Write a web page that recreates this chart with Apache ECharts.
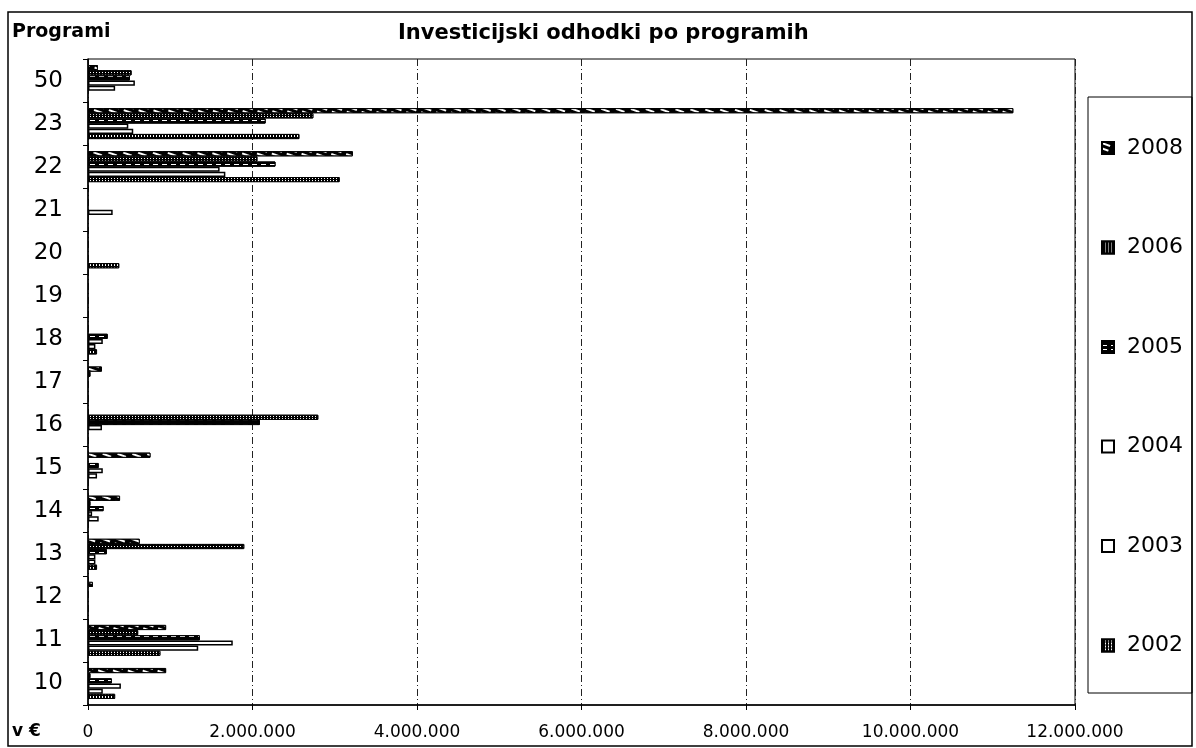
<!DOCTYPE html>
<html>
<head>
<meta charset="utf-8">
<title>Investicijski odhodki po programih</title>
<script src="https://cdn.jsdelivr.net/npm/echarts@6/dist/echarts.min.js"></script>
<style>
  html, body { margin: 0; padding: 0; background: #fff; }
  #chart { width: 1196px; height: 748px; }
</style>
</head>
<body>
<div id="chart"></div>
<script>
// programi, from bottom to top as on the axis
const programs = ['10', '11', '12', '13', '14', '15', '16', '17', '18', '19', '20', '21', '22', '23', '50'];

// investment per program and year, in EUR
const y2008 = [950000, 950000, 60000, 630000, 390000, 760000, 0, 170000, 0, 0, 0, 0, 3220000, 11250000, 120000];
const y2006 = [30000, 610000, 0, 1900000, 30000, 0, 2800000, 30000, 0, 0, 0, 0, 2060000, 2740000, 530000];
const y2005 = [290000, 1360000, 0, 230000, 190000, 130000, 2090000, 0, 240000, 0, 0, 0, 2280000, 2160000, 510000];
const y2004 = [400000, 1760000, 0, 90000, 50000, 180000, 170000, 0, 180000, 0, 0, 300000, 1600000, 490000, 570000];
const y2003 = [180000, 1340000, 0, 90000, 130000, 110000, 0, 0, 90000, 0, 0, 0, 1670000, 550000, 330000];
const y2002 = [330000, 880000, 0, 110000, 0, 0, 0, 0, 110000, 0, 380000, 0, 3060000, 2570000, 0];

const years = ['2008', '2006', '2005', '2004', '2003', '2002'];
const xMax = 12000000;
const xStep = 2000000;

const fontFamily = '"DejaVu Sans", Arial, sans-serif';
const dots = (v) => String(v).replace(/\B(?=(\d{3})+(?!\d))/g, '.');

// black & white fills like the printed original
const styles = {
  '2008': { color: '#000', borderColor: '#000', borderWidth: 1,
    decal: { color: '#fff', symbol: 'rect', symbolSize: 1, dashArrayX: [[9, 5]], dashArrayY: [2, 3], rotation: 0.35 } },
  '2006': { color: '#000', borderColor: '#000', borderWidth: 1,
    decal: { color: '#fff', symbol: 'rect', symbolSize: 1, dashArrayX: [[1, 2]], dashArrayY: [1, 1] } },
  '2005': { color: '#000', borderColor: '#000', borderWidth: 1,
    decal: { color: '#fff', symbol: 'rect', symbolSize: 1, dashArrayX: [[5, 4]], dashArrayY: [1, 3] } },
  '2004': { color: '#fff', borderColor: '#000', borderWidth: 1.5 },
  '2003': { color: '#fff', borderColor: '#000', borderWidth: 1.5 },
  '2002': { color: '#000', borderColor: '#000', borderWidth: 1,
    decal: { color: '#fff', symbol: 'rect', symbolSize: 1, dashArrayX: [[1, 2]], dashArrayY: [2, 1] } }
};

const valuesByYear = { '2008': y2008, '2006': y2006, '2005': y2005, '2004': y2004, '2003': y2003, '2002': y2002 };

const chart = echarts.init(document.getElementById('chart'), null, { renderer: 'canvas' });

const option = {
  backgroundColor: '#fff',
  animation: false,
  textStyle: { fontFamily, color: '#000' },
  title: [
    { text: 'Programi', left: 12, top: 23, padding: 0,
      textStyle: { fontFamily, fontSize: 19, fontWeight: 'bold', color: '#000' } },
    { text: 'Investicijski odhodki po programih', left: 398, top: 23, padding: 0,
      textStyle: { fontFamily, fontSize: 21, fontWeight: 'bold', color: '#000' } }
  ],
  legend: {
    data: years,
    orient: 'vertical',
    left: 1101, top: 137,
    padding: 0,
    itemWidth: 12, itemHeight: 12,
    itemGap: 77.5,
    icon: 'rect',
    textStyle: { fontFamily, fontSize: 22, lineHeight: 22, color: '#000', padding: [0, 0, 0, 8] }
  },
  grid: {
    left: 88, right: 121, top: 59, bottom: 43,
    show: true, borderColor: '#000', borderWidth: 1
  },
  xAxis: {
    type: 'value', min: 0, max: xMax, interval: xStep,
    axisLine: { show: true, lineStyle: { color: '#000', width: 1.5 } },
    axisTick: { show: true, length: 5, lineStyle: { color: '#000' } },
    axisLabel: { margin: 19, fontSize: 17, color: '#000', fontFamily, formatter: (v) => dots(v) },
    splitLine: { show: true, lineStyle: { color: '#222', width: 1, type: [7, 3, 1, 3] } }
  },
  yAxis: {
    type: 'category', data: programs,
    axisLine: { show: true, lineStyle: { color: '#000', width: 1.5 } },
    axisTick: { show: true, length: 5, lineStyle: { color: '#000' } },
    axisLabel: { margin: 25, fontSize: 23, color: '#000', fontFamily },
    splitLine: { show: false }
  },
  series: years.map((yr) => ({
    name: yr,
    type: 'bar',
    barGap: '0%',
    barCategoryGap: '28%',
    itemStyle: styles[yr],
    data: valuesByYear[yr].map((v) => (v === 0 ? null : v))
  })),
  graphic: [
    // outer frame of the printed chart
    { type: 'rect', shape: { x: 8, y: 12, width: 1184, height: 734 },
      style: { fill: null, stroke: '#000', lineWidth: 1.5 }, silent: true },
    // legend frame
    { type: 'rect', shape: { x: 1088, y: 97, width: 104, height: 596 },
      style: { fill: null, stroke: '#000', lineWidth: 1 }, silent: true },
    { type: 'text', left: 12, top: 723,
      style: { text: 'v €', fontFamily, fontSize: 17, fontWeight: 'bold', fill: '#000' } }
  ]
};

chart.setOption(option);
</script>
</body>
</html>
